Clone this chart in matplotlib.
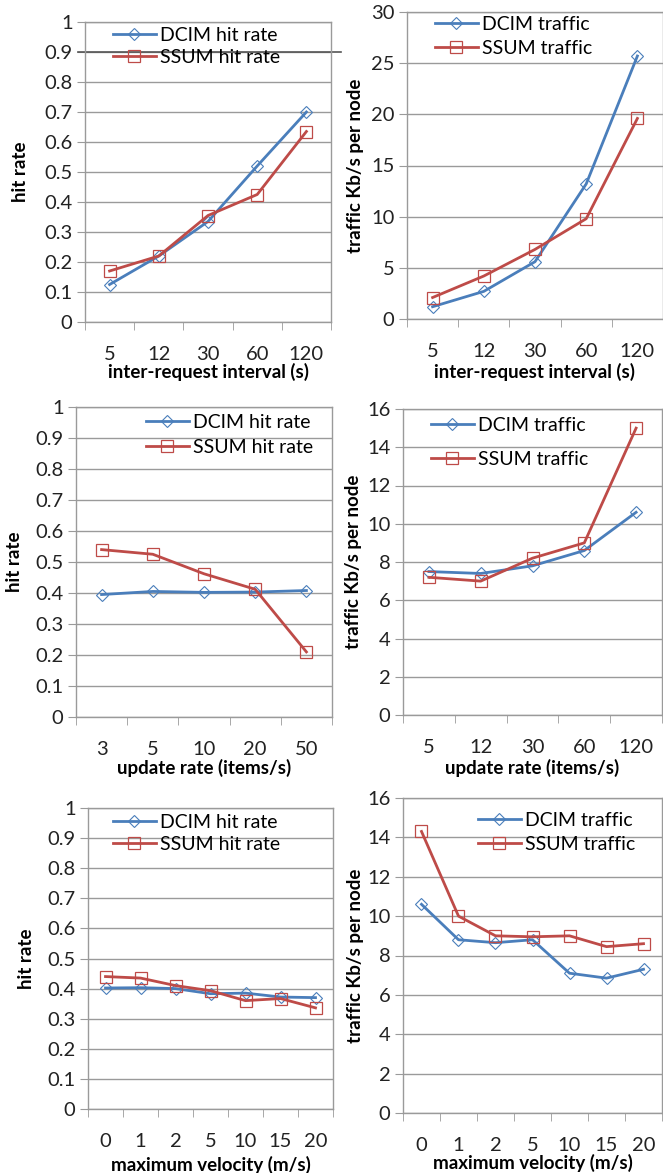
import matplotlib.pyplot as plt

plt.rcParams['font.family'] = ['Lato', 'DejaVu Sans']

# data
interval_labels = ['5', '12', '30', '60', '120']
dcim_hit_interval = [0.125, 0.22, 0.335, 0.52, 0.70]
ssum_hit_interval = [0.17, 0.22, 0.355, 0.425, 0.635]
dcim_traffic_interval = [1.2, 2.7, 5.6, 13.2, 25.7]
ssum_traffic_interval = [2.1, 4.2, 6.8, 9.8, 19.6]

update_hit_labels = ['3', '5', '10', '20', '50']
dcim_hit_update = [0.395, 0.405, 0.402, 0.403, 0.408]
ssum_hit_update = [0.54, 0.525, 0.462, 0.412, 0.21]
update_traffic_labels = ['5', '12', '30', '60', '120']
dcim_traffic_update = [7.5, 7.4, 7.8, 8.6, 10.6]
ssum_traffic_update = [7.2, 7.0, 8.2, 9.0, 15.0]

velocity_labels = ['0', '1', '2', '5', '10', '15', '20']
dcim_hit_velocity = [0.402, 0.403, 0.400, 0.383, 0.385, 0.372, 0.370]
ssum_hit_velocity = [0.44, 0.435, 0.41, 0.393, 0.36, 0.367, 0.336]
dcim_traffic_velocity = [10.6, 8.8, 8.65, 8.8, 7.1, 6.85, 7.3]
ssum_traffic_velocity = [14.3, 10.0, 9.0, 8.95, 9.0, 8.45, 8.6]

W, H = 663, 1173
BLUE = '#4a7ebb'
RED = '#be4b48'
GRID = '#9a9a9a'

fig = plt.figure(figsize=(W / 100, H / 100), dpi=100)


def fx(px):
    return px / W


def fy(py):
    return 1 - py / H


def panel(box, labels, dcim, ssum, ymax, ystep, names, ylabel, xlabel,
          leg, ylab_x, xlab_y, spacing):
    l, t, r, b = box
    ax = fig.add_axes([fx(l), fy(b), fx(r - l), (b - t) / H])
    x = list(range(len(labels)))
    ax.plot(x, dcim, color=BLUE, lw=2.0, marker='D', ms=6, mfc='none',
            mec=BLUE, mew=0.8, label=names[0])
    ax.plot(x, ssum, color=RED, lw=2.0, marker='s', ms=8.5, mfc='none',
            mec=RED, mew=0.9, label=names[1])
    ax.set_xlim(-0.5, len(labels) - 0.5)
    ax.set_ylim(0, ymax)
    yt = [i * ystep for i in range(int(round(ymax / ystep)) + 1)]
    ax.set_yticks(yt)
    ax.set_yticklabels(['%g' % v for v in yt])
    ax.set_xticks(x)
    ax.set_xticklabels(labels)
    ax.set_xticks([i - 0.5 for i in range(len(labels) + 1)], minor=True)
    ax.tick_params(axis='x', which='major', length=0, pad=17, labelsize=14.5,
                   colors='#222222')
    ax.tick_params(axis='x', which='minor', length=6, color=GRID)
    ax.tick_params(axis='y', length=6, color=GRID, pad=3, labelsize=14.5,
                   colors='#222222')
    ax.grid(axis='y', color=GRID, lw=1)
    ax.set_axisbelow(True)
    for s in ax.spines.values():
        s.set_color(GRID)
        s.set_linewidth(1)
    ax.legend(loc='upper left', bbox_to_anchor=(fx(leg[0]), fy(leg[1])),
              bbox_transform=fig.transFigure, frameon=False, fontsize=14,
              borderpad=0, handlelength=2.2, handletextpad=0.2,
              labelspacing=spacing, borderaxespad=0)
    fig.text(fx(ylab_x), fy((t + b) / 2), ylabel, rotation=90, ha='center',
             va='center', fontsize=13.5, fontweight='bold')
    fig.text(fx((l + r) / 2), fy(xlab_y), xlabel, ha='center', va='center',
             fontsize=13.5, fontweight='bold')
    return ax


ax1 = panel((85, 22, 331, 322), interval_labels, dcim_hit_interval,
            ssum_hit_interval, 1.0, 0.1, ['DCIM hit rate', 'SSUM hit rate'],
            'hit rate', 'inter-request interval (s)', (113, 27), 21, 372, 0.25)
# darker rule across the top-left panel at 0.9, as in the scan
ax1.axhline(0.9, color='#555555', lw=1.2, clip_on=False, xmin=-0.03,
            xmax=1.04)

panel((407, 12, 663, 319), interval_labels, dcim_traffic_interval,
      ssum_traffic_interval, 30, 5, ['DCIM traffic', 'SSUM traffic'],
      'traffic Kb/s per node', 'inter-request interval (s)', (435, 16),
      355, 372, 0.35)

panel((76, 407, 332, 717), update_hit_labels, dcim_hit_update,
      ssum_hit_update, 1.0, 0.1, ['DCIM hit rate', 'SSUM hit rate'],
      'hit rate', 'update rate (items/s)', (146, 414), 15, 768, 0.4)

panel((403, 409, 662, 715), update_traffic_labels, dcim_traffic_update,
      ssum_traffic_update, 16, 2, ['DCIM traffic', 'SSUM traffic'],
      'traffic Kb/s per node', 'update rate (items/s)', (431, 417), 354,
      768, 0.85)

panel((88, 808, 333, 1109), velocity_labels, dcim_hit_velocity,
      ssum_hit_velocity, 1.0, 0.1, ['DCIM hit rate', 'SSUM hit rate'],
      'hit rate', 'maximum velocity (m/s)', (113, 814), 27, 1165, 0.25)

panel((403, 798, 662, 1113), velocity_labels, dcim_traffic_velocity,
      ssum_traffic_velocity, 16, 2, ['DCIM traffic', 'SSUM traffic'],
      'traffic Kb/s per node', 'maximum velocity (m/s)', (478, 812), 355,
      1163, 0.35)

fig.savefig('out.png', dpi=100)
